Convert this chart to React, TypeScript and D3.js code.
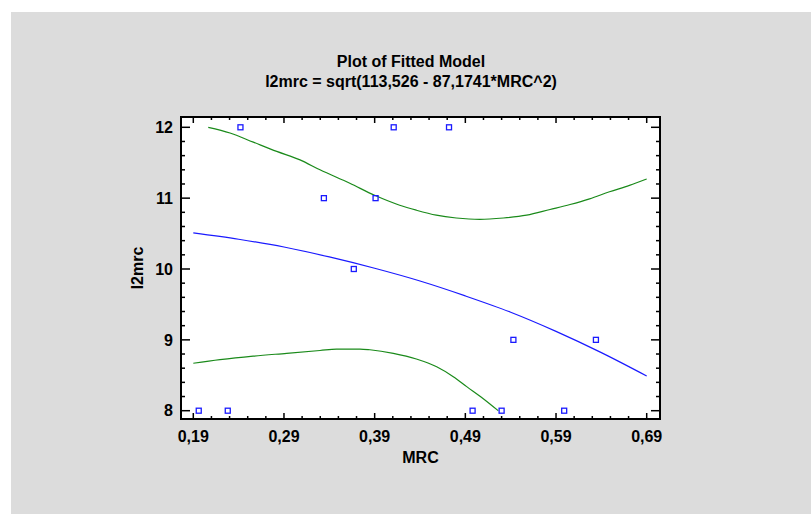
import React from "react";
import * as d3 from "d3";

const titleLines = ["Plot of Fitted Model", "l2mrc = sqrt(113,526 - 87,1741*MRC^2)"];
const xAxisTitle = "MRC";
const yAxisTitle = "l2mrc";

const xTicks = [0.19, 0.29, 0.39, 0.49, 0.59, 0.69];
const xTickLabels = ["0,19", "0,29", "0,39", "0,49", "0,59", "0,69"];
const yTicks = [8, 9, 10, 11, 12];
const yTickLabels = ["8", "9", "10", "11", "12"];

// observed points
const obsX = [0.196, 0.228, 0.242, 0.334, 0.367, 0.391, 0.411, 0.472, 0.498, 0.530, 0.543, 0.599, 0.634];
const obsY = [8, 8, 12, 11, 10, 11, 12, 12, 8, 8, 9, 8, 9];

// fitted line
const fitX = [0.19, 0.24, 0.29, 0.34, 0.39, 0.44, 0.49, 0.54, 0.59, 0.64, 0.69];
const fitY = [10.51, 10.42, 10.31, 10.17, 10.01, 9.83, 9.62, 9.39, 9.12, 8.82, 8.49];

// upper prediction limit
const upX = [0.2065, 0.2305, 0.2562, 0.282, 0.3077, 0.3297, 0.3626, 0.39, 0.4176, 0.436, 0.458, 0.48, 0.506, 0.532, 0.5576, 0.5834, 0.6055, 0.627, 0.649, 0.671, 0.69];
const upY = [12.0, 11.92, 11.79, 11.66, 11.54, 11.4, 11.21, 11.04, 10.9, 10.83, 10.76, 10.72, 10.7, 10.72, 10.76, 10.84, 10.91, 10.99, 11.09, 11.18, 11.27];

// lower prediction limit
const loX = [0.19, 0.2194, 0.256, 0.293, 0.3297, 0.348, 0.3738, 0.3847, 0.4106, 0.436, 0.4584, 0.4767, 0.4915, 0.5098, 0.5263];
const loY = [8.67, 8.72, 8.77, 8.81, 8.85, 8.87, 8.87, 8.86, 8.81, 8.73, 8.62, 8.48, 8.34, 8.17, 8.0];

const W = 811;
const H = 514;
const FONT = "'Liberation Sans', Arial, sans-serif";
const BLUE = "#1a1aff";
const GREEN = "#1a8a1a";
const FS = 16;

export default function App() {
  const x = d3.scaleLinear().domain([0.19, 0.69]).range([193.3, 646.7]);
  const y = d3.scaleLinear().domain([8, 12]).range([410.7, 127.3]);
  const frame = { x0: 181, x1: 660, y0: 117, y1: 419 };

  const xMinor = d3.range(0, 26).map((i) => 0.19 + i * 0.02);
  const yMinor = d3.range(0, 21).map((i) => 8 + i * 0.2);

  const line = d3
    .line<[number, number]>()
    .x((d) => x(d[0]))
    .y((d) => y(d[1]))
    .curve(d3.curveMonotoneX);

  const fitPts = fitX.map((v, i) => [v, fitY[i]] as [number, number]);
  const upPts = upX.map((v, i) => [v, upY[i]] as [number, number]);
  const loPts = loX.map((v, i) => [v, loY[i]] as [number, number]);

  const isMajorX = (v: number) => xTicks.some((t) => Math.abs(t - v) < 1e-6);
  const isMajorY = (v: number) => yTicks.some((t) => Math.abs(t - v) < 1e-6);

  return (
    <svg
      width={W}
      height={H}
      style={{ position: "absolute", left: 0, top: 0, fontFamily: FONT }}
    >
      <rect x={0} y={0} width={W} height={H} fill="#ffffff" />
      <rect x={11} y={12} width={W - 11} height={H - 12} fill="#dcdcdc" />

      <text x={411} y={67} textAnchor="middle" fontSize={FS} fontWeight="bold" fill="#000">
        {titleLines[0]}
      </text>
      <text x={411} y={87} textAnchor="middle" fontSize={FS} fontWeight="bold" fill="#000">
        {titleLines[1]}
      </text>

      <rect
        x={frame.x0}
        y={frame.y0}
        width={frame.x1 - frame.x0}
        height={frame.y1 - frame.y0}
        fill="#ffffff"
      />

      {/* ticks */}
      {xMinor.map((v, i) => {
        const len = isMajorX(v) ? 6 : 3;
        const px = x(v);
        return (
          <g key={"xt" + i}>
            <line x1={px} x2={px} y1={frame.y1} y2={frame.y1 - len} stroke="#000" strokeWidth={1.5} />
            <line x1={px} x2={px} y1={frame.y0} y2={frame.y0 + len} stroke="#000" strokeWidth={1.5} />
          </g>
        );
      })}
      {yMinor.map((v, i) => {
        const len = isMajorY(v) ? 9 : 4;
        const py = y(v);
        return (
          <g key={"yt" + i}>
            <line x1={frame.x0} x2={frame.x0 + len} y1={py} y2={py} stroke="#000" strokeWidth={1.5} />
            <line x1={frame.x1} x2={frame.x1 - len} y1={py} y2={py} stroke="#000" strokeWidth={1.5} />
          </g>
        );
      })}

      {/* curves */}
      <path d={line(upPts) || ""} fill="none" stroke={GREEN} strokeWidth={1.2} />
      <path d={line(loPts) || ""} fill="none" stroke={GREEN} strokeWidth={1.2} />
      <path d={line(fitPts) || ""} fill="none" stroke={BLUE} strokeWidth={1.2} />

      {/* observations */}
      {obsX.map((v, i) => (
        <rect
          key={"p" + i}
          x={x(v) - 2.5}
          y={y(obsY[i]) - 2.5}
          width={5}
          height={5}
          fill="none"
          stroke={BLUE}
          strokeWidth={1.3}
        />
      ))}

      <rect
        x={frame.x0}
        y={frame.y0}
        width={frame.x1 - frame.x0}
        height={frame.y1 - frame.y0}
        fill="none"
        stroke="#000"
        strokeWidth={2}
      />

      {/* tick labels */}
      {xTicks.map((v, i) => (
        <text key={"xl" + i} x={x(v)} y={442} textAnchor="middle" fontSize={FS} fontWeight="bold" fill="#000">
          {xTickLabels[i]}
        </text>
      ))}
      {yTicks.map((v, i) => (
        <text
          key={"yl" + i}
          x={173}
          y={y(v)}
          dy="0.36em"
          textAnchor="end"
          fontSize={FS}
          fontWeight="bold"
          fill="#000"
        >
          {yTickLabels[i]}
        </text>
      ))}

      <text
        x={(frame.x0 + frame.x1) / 2}
        y={463}
        textAnchor="middle"
        fontSize={FS}
        fontWeight="bold"
        fill="#000"
      >
        {xAxisTitle}
      </text>
      <text
        transform={`translate(142.5, ${(frame.y0 + frame.y1) / 2}) rotate(-90)`}
        textAnchor="middle"
        fontSize={FS}
        fontWeight="bold"
        fill="#000"
      >
        {yAxisTitle}
      </text>
    </svg>
  );
}
